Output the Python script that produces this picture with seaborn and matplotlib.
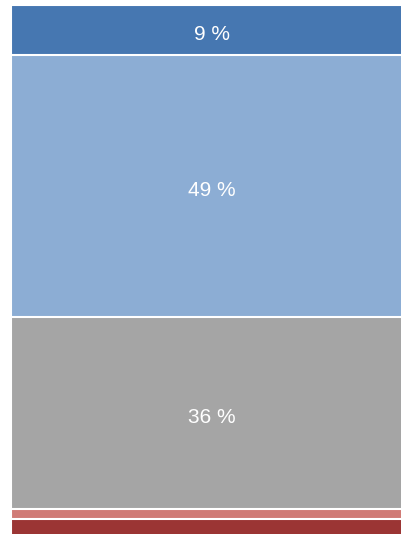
import numpy as np
import pandas as pd
import seaborn as sns
import matplotlib
matplotlib.use('Agg')
import matplotlib.pyplot as plt

# Segments of the stacked bar, from top to bottom
segments = ['Segment 1', 'Segment 2', 'Segment 3', 'Segment 4', 'Segment 5']
shares = [9.3, 49.1, 35.9, 1.9, 3.8]
labels = ['9 %', '49 %', '36 %', '', '']
colors = ['#4677b1', '#8cadd4', '#a5a5a5', '#d07b76', '#9b3534']

sns.set_theme(style='white')
plt.rcParams['font.family'] = ['Liberation Sans', 'DejaVu Sans']

df = pd.DataFrame({'segment': segments, 'share': shares})
df['top'] = df['share'].cumsum()
df['bar'] = 'all'

W, H = 402, 534
fig = plt.figure(figsize=(W / 100, H / 100), dpi=100)
# bar spans x 11..413 px, y from 5 px down past the bottom edge
ax = fig.add_axes([11 / W, -5 / H, 402 / W, 534 / H])

# draw the cumulative bars from the longest to the shortest so they stack
for i in reversed(range(len(df))):
    sns.barplot(data=df.iloc[[i]], x='bar', y='top', color=colors[i],
                width=1.0, edgecolor='white', linewidth=1.5,
                saturation=1, ax=ax)

start = 0
for s, lab in zip(shares, labels):
    if lab:
        ax.annotate(lab, (0, start + s / 2), xytext=(0, -5),
                    textcoords='offset pixels', ha='center', va='center',
                    color='white', fontsize=15)
    start += s

ax.set_xlim(-0.5, 0.5)
ax.set_ylim(100, 0)
ax.set_axis_off()

fig.savefig('out.png', dpi=100)
